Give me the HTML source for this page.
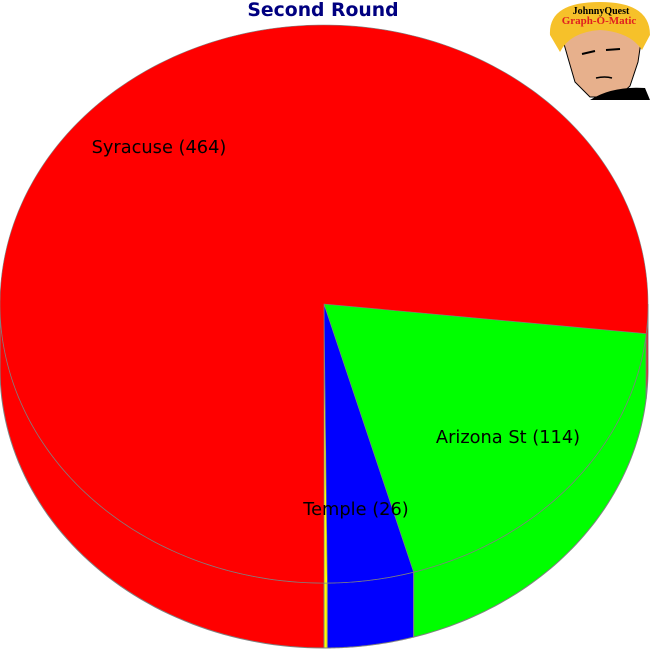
<!DOCTYPE html>
<html><head><meta charset="utf-8"><style>
html,body{margin:0;padding:0;background:#fff;}
svg{display:block;}
</style></head><body>
<svg id="chart" width="650" height="650" viewBox="0 0 650 650">
<text x="323" y="16" text-anchor="middle" font-family="DejaVu Sans, Liberation Sans, sans-serif" font-weight="bold" font-size="18.8" fill="#000080">Second Round</text>
<g>
<path d="M560 30 Q565 10 600 10 Q640 10 642 35 L638 62 L630 86 L618 97 L590 97 L575 82 L568 58 Z" fill="#e7b08c" stroke="#000" stroke-width="1"/>
<path d="M550 35 Q548 2 600 2 Q650 2 650 35 L642 50 Q630 32 600 30 Q570 32 560 52 Z" fill="#f6c12a"/>
<path d="M590 100 Q612 86 645 88 L650 100 Z" fill="#000"/>
<path d="M582 54 L595 51 M606 50 L620 49" stroke="#000" stroke-width="2"/>
<path d="M596 78 Q605 76 612 78" stroke="#000" stroke-width="1.5" fill="none"/>
<text x="601" y="14" text-anchor="middle" font-family="Liberation Serif, serif" font-weight="bold" font-size="10" fill="#000">JohnnyQuest</text>
<text x="599" y="24" text-anchor="middle" font-family="Liberation Serif, serif" font-weight="bold" font-size="11" fill="#e02020">Graph-O-Matic</text>
</g>
<g id="pie"></g>
</svg>
<script>
const labels = ["Temple (26)", "Arizona St (114)", "Syracuse (464)", "Other (1)"];
const values = [26, 114, 464, 1];
const colors = ["#0000ff", "#00ff00", "#ff0000", "#ffff00"];
const cx = 324, cy = 304, rx = 324, ry = 279, depth = 65;
const ns = "http://www.w3.org/2000/svg";
const g = document.getElementById("pie");
const total = values.reduce((a, b) => a + b, 0);
function pt(t, dy) { return [cx + rx * Math.sin(t), cy + ry * Math.cos(t) + (dy || 0)]; }
const order = [3, 0, 1, 2];
let acc = 0;
const slices = [];
order.forEach(i => {
  const a0 = acc / total * 2 * Math.PI;
  acc += values[i];
  const a1 = acc / total * 2 * Math.PI;
  slices.push({ i, a0, a1 });
});
function arcPath(a0, a1, dy, steps) {
  let s = [];
  for (let k = 0; k <= steps; k++) {
    const t = a0 + (a1 - a0) * k / steps;
    s.push(pt(t, dy));
  }
  return s;
}
slices.forEach(s => {
  const ranges = [[0, Math.PI / 2], [3 * Math.PI / 2, 2 * Math.PI]];
  ranges.forEach(([r0, r1]) => {
    const a0 = Math.max(s.a0, r0), a1 = Math.min(s.a1, r1);
    if (a1 <= a0) return;
    const top = arcPath(a0, a1, 0, 60);
    const bot = arcPath(a1, a0, depth, 60);
    const p = document.createElementNS(ns, "path");
    p.setAttribute("d", "M" + top.concat(bot).map(q => q[0].toFixed(2) + "," + q[1].toFixed(2)).join("L") + "Z");
    p.setAttribute("fill", colors[s.i]);
    p.setAttribute("stroke", "#808080");
    p.setAttribute("stroke-width", "1");
    
    
    g.appendChild(p);
  });
});
slices.forEach(s => {
  const arc = arcPath(s.a0, s.a1, 0, Math.max(4, Math.ceil((s.a1 - s.a0) * 60)));
  const p = document.createElementNS(ns, "path");
  p.setAttribute("d", "M" + cx + "," + cy + "L" + arc.map(q => q[0].toFixed(2) + "," + q[1].toFixed(2)).join("L") + "Z");
  p.setAttribute("fill", colors[s.i]);
  p.setAttribute("stroke", "#808080");
  p.setAttribute("stroke-width", "0.6");
  
  
  g.appendChild(p);
});
const labelPos = { 0: [356, 515], 1: [508, 443], 2: [159, 153] };
[0, 1, 2].forEach(i => {
  const t = document.createElementNS(ns, "text");
  t.setAttribute("x", labelPos[i][0]);
  t.setAttribute("y", labelPos[i][1]);
  t.setAttribute("text-anchor", "middle");
  t.setAttribute("font-family", "DejaVu Sans, Liberation Sans, sans-serif");
  t.setAttribute("font-size", "17.8");
  t.setAttribute("fill", "#000");
  t.textContent = labels[i];
  
  
  g.appendChild(t);
});
</script>
</body></html>
